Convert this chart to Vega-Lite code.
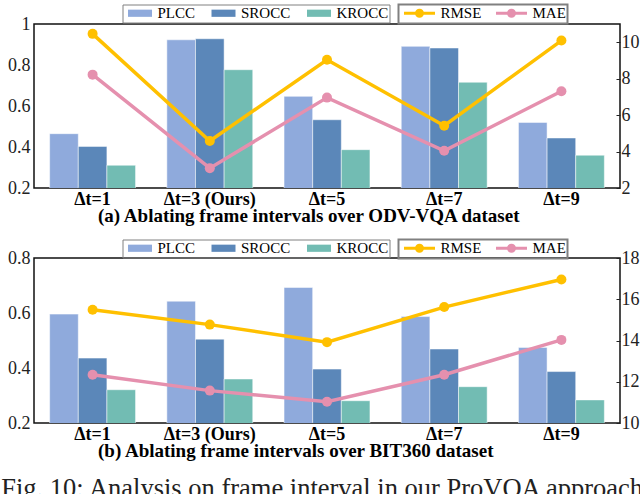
{
  "$schema": "https://vega.github.io/schema/vega-lite/v6.json",
  "padding": {"left": 0, "right": 0, "top": 2, "bottom": 0},
  "background": "white",
  "config": {
    "font": "Liberation Serif",
    "view": {"stroke": "#111", "strokeWidth": 1.5},
    "axis": {"grid": false, "domain": false, "title": null, "labelFont": "Liberation Serif", "labelColor": "#222"},
    "concat": {"spacing": 10},
    "legend": {"labelFont": "Liberation Serif", "labelFontSize": 15, "labelColor": "#000", "strokeColor": "#808080", "padding": 1, "title": null}
  },
  "datasets": {
    "a_bars": [
      {"interval": "Δt=1", "metric": "PLCC", "value": 0.465},
      {"interval": "Δt=1", "metric": "SROCC", "value": 0.403},
      {"interval": "Δt=1", "metric": "KROCC", "value": 0.311},
      {"interval": "Δt=3 (Ours)", "metric": "PLCC", "value": 0.923},
      {"interval": "Δt=3 (Ours)", "metric": "SROCC", "value": 0.928},
      {"interval": "Δt=3 (Ours)", "metric": "KROCC", "value": 0.777},
      {"interval": "Δt=5", "metric": "PLCC", "value": 0.647},
      {"interval": "Δt=5", "metric": "SROCC", "value": 0.533},
      {"interval": "Δt=5", "metric": "KROCC", "value": 0.387},
      {"interval": "Δt=7", "metric": "PLCC", "value": 0.891},
      {"interval": "Δt=7", "metric": "SROCC", "value": 0.883},
      {"interval": "Δt=7", "metric": "KROCC", "value": 0.716},
      {"interval": "Δt=9", "metric": "PLCC", "value": 0.52},
      {"interval": "Δt=9", "metric": "SROCC", "value": 0.444},
      {"interval": "Δt=9", "metric": "KROCC", "value": 0.36}
    ],
    "a_lines": [
      {"interval": "Δt=1", "metric": "RMSE", "value": 10.46},
      {"interval": "Δt=3 (Ours)", "metric": "RMSE", "value": 4.58},
      {"interval": "Δt=5", "metric": "RMSE", "value": 9.04},
      {"interval": "Δt=7", "metric": "RMSE", "value": 5.42},
      {"interval": "Δt=9", "metric": "RMSE", "value": 10.09},
      {"interval": "Δt=1", "metric": "MAE", "value": 8.22},
      {"interval": "Δt=3 (Ours)", "metric": "MAE", "value": 3.09},
      {"interval": "Δt=5", "metric": "MAE", "value": 6.96},
      {"interval": "Δt=7", "metric": "MAE", "value": 4.04},
      {"interval": "Δt=9", "metric": "MAE", "value": 7.31}
    ],
    "b_bars": [
      {"interval": "Δt=1", "metric": "PLCC", "value": 0.596},
      {"interval": "Δt=1", "metric": "SROCC", "value": 0.436},
      {"interval": "Δt=1", "metric": "KROCC", "value": 0.321},
      {"interval": "Δt=3 (Ours)", "metric": "PLCC", "value": 0.643},
      {"interval": "Δt=3 (Ours)", "metric": "SROCC", "value": 0.505},
      {"interval": "Δt=3 (Ours)", "metric": "KROCC", "value": 0.36},
      {"interval": "Δt=5", "metric": "PLCC", "value": 0.693},
      {"interval": "Δt=5", "metric": "SROCC", "value": 0.396},
      {"interval": "Δt=5", "metric": "KROCC", "value": 0.281},
      {"interval": "Δt=7", "metric": "PLCC", "value": 0.587},
      {"interval": "Δt=7", "metric": "SROCC", "value": 0.469},
      {"interval": "Δt=7", "metric": "KROCC", "value": 0.332},
      {"interval": "Δt=9", "metric": "PLCC", "value": 0.475},
      {"interval": "Δt=9", "metric": "SROCC", "value": 0.387},
      {"interval": "Δt=9", "metric": "KROCC", "value": 0.284}
    ],
    "b_lines": [
      {"interval": "Δt=1", "metric": "RMSE", "value": 15.49},
      {"interval": "Δt=3 (Ours)", "metric": "RMSE", "value": 14.77},
      {"interval": "Δt=5", "metric": "RMSE", "value": 13.92},
      {"interval": "Δt=7", "metric": "RMSE", "value": 15.62},
      {"interval": "Δt=9", "metric": "RMSE", "value": 16.96},
      {"interval": "Δt=1", "metric": "MAE", "value": 12.34},
      {"interval": "Δt=3 (Ours)", "metric": "MAE", "value": 11.57},
      {"interval": "Δt=5", "metric": "MAE", "value": 11.03},
      {"interval": "Δt=7", "metric": "MAE", "value": 12.34},
      {"interval": "Δt=9", "metric": "MAE", "value": 14.03}
    ]
  },
  "vconcat": [
    {
      "width": 586,
      "height": 164,
      "title": {"text": "(a) Ablating frame intervals over ODV-VQA dataset", "orient": "bottom", "anchor": "start", "dx": 97, "fontSize": 19, "fontWeight": "bold", "font": "Liberation Serif", "color": "#000", "offset": -1},
      "layer": [
        {
          "data": {"name": "a_bars"},
          "mark": {"type": "bar", "clip": true, "stroke": "white", "strokeWidth": 0.5},
          "encoding": {
            "x": {"field": "interval", "type": "nominal", "sort": ["Δt=1", "Δt=3 (Ours)", "Δt=5", "Δt=7", "Δt=9"], "scale": {"paddingInner": 0.267, "paddingOuter": 0.1335}, "axis": {"labelAngle": 0, "labelFontWeight": "bold", "labelFontSize": 18, "labelColor": "#000", "ticks": false, "labelPadding": 2}},
            "xOffset": {"field": "metric", "type": "nominal", "sort": ["PLCC", "SROCC", "KROCC"]},
            "y": {"field": "value", "type": "quantitative", "scale": {"domain": [0.2, 1], "nice": false, "zero": false}, "axis": {"values": [0.2, 0.4, 0.6, 0.8, 1], "format": "~g", "ticks": false, "labelPadding": 4, "labelFontSize": 18, "minExtent": 33, "maxExtent": 33}},
            "color": {"field": "metric", "type": "nominal", "scale": {"domain": ["PLCC", "SROCC", "KROCC"], "range": ["#8FAADC", "#5B87B9", "#72BCB3"]}, "legend": {"orient": "none", "legendX": 88.5, "legendY": -19.5, "direction": "horizontal", "symbolType": "M-0.5,-0.6H3.5V0.6H-0.5Z", "symbolSize": 144, "symbolStrokeWidth": 0, "symbolOpacity": 1, "labelOffset": 19, "columnPadding": 11.5, "encode": {"legend": {"update": {"strokeWidth": {"value": 2}}}}}}
          }
        },
        {
          "data": {"name": "a_lines"},
          "mark": {"type": "line", "strokeWidth": 3.5, "point": {"size": 100, "filled": true}},
          "encoding": {
            "x": {"field": "interval", "type": "nominal", "sort": ["Δt=1", "Δt=3 (Ours)", "Δt=5", "Δt=7", "Δt=9"]},
            "y": {"field": "value", "type": "quantitative", "scale": {"domain": [2, 11], "nice": false, "zero": false}, "axis": {"orient": "right", "values": [2, 4, 6, 8, 10], "tickSize": -4, "tickColor": "#222", "labelPadding": 5, "labelFontSize": 18, "minExtent": 20, "maxExtent": 20}},
            "color": {"field": "metric", "type": "nominal", "scale": {"domain": ["RMSE", "MAE"], "range": ["#FFC000", "#E590AE"]}, "legend": {"orient": "none", "legendX": 364.5, "legendY": -19.5, "direction": "horizontal", "symbolType": "M-0.5,0H4.667M2.583,0A0.5,0.5 0 1,1 1.583,0A0.5,0.5 0 1,1 2.583,0", "symbolSize": 144, "symbolStrokeWidth": 3, "labelOffset": 26, "columnPadding": 8, "encode": {"legend": {"update": {"strokeWidth": {"value": 2}}}}}}
          }
        }
      ],
      "resolve": {"scale": {"y": "independent", "color": "independent"}}
    },
    {
      "width": 586,
      "height": 165,
      "title": {"text": "(b) Ablating frame intervals over BIT360 dataset", "orient": "bottom", "anchor": "start", "dx": 97, "fontSize": 19, "fontWeight": "bold", "font": "Liberation Serif", "color": "#000", "offset": -1},
      "layer": [
        {
          "data": {"name": "b_bars"},
          "mark": {"type": "bar", "clip": true, "stroke": "white", "strokeWidth": 0.5},
          "encoding": {
            "x": {"field": "interval", "type": "nominal", "sort": ["Δt=1", "Δt=3 (Ours)", "Δt=5", "Δt=7", "Δt=9"], "scale": {"paddingInner": 0.267, "paddingOuter": 0.1335}, "axis": {"labelAngle": 0, "labelFontWeight": "bold", "labelFontSize": 18, "labelColor": "#000", "ticks": false, "labelPadding": 2}},
            "xOffset": {"field": "metric", "type": "nominal", "sort": ["PLCC", "SROCC", "KROCC"]},
            "y": {"field": "value", "type": "quantitative", "scale": {"domain": [0.2, 0.8], "nice": false, "zero": false}, "axis": {"values": [0.2, 0.4, 0.6, 0.8], "format": "~g", "ticks": false, "labelPadding": 4, "labelFontSize": 18, "minExtent": 33, "maxExtent": 33}},
            "color": {"field": "metric", "type": "nominal", "scale": {"domain": ["PLCC", "SROCC", "KROCC"], "range": ["#8FAADC", "#5B87B9", "#72BCB3"]}, "legend": {"orient": "none", "legendX": 88.5, "legendY": -18.5, "direction": "horizontal", "symbolType": "M-0.5,-0.6H3.5V0.6H-0.5Z", "symbolSize": 144, "symbolStrokeWidth": 0, "symbolOpacity": 1, "labelOffset": 19, "columnPadding": 11.5, "encode": {"legend": {"update": {"strokeWidth": {"value": 2}}}}}}
          }
        },
        {
          "data": {"name": "b_lines"},
          "mark": {"type": "line", "strokeWidth": 3.5, "point": {"size": 100, "filled": true}},
          "encoding": {
            "x": {"field": "interval", "type": "nominal", "sort": ["Δt=1", "Δt=3 (Ours)", "Δt=5", "Δt=7", "Δt=9"]},
            "y": {"field": "value", "type": "quantitative", "scale": {"domain": [10, 18], "nice": false, "zero": false}, "axis": {"orient": "right", "values": [10, 12, 14, 16, 18], "tickSize": -4, "tickColor": "#222", "labelPadding": 5, "labelFontSize": 18, "minExtent": 20, "maxExtent": 20}},
            "color": {"field": "metric", "type": "nominal", "scale": {"domain": ["RMSE", "MAE"], "range": ["#FFC000", "#E590AE"]}, "legend": {"orient": "none", "legendX": 364.5, "legendY": -18.5, "direction": "horizontal", "symbolType": "M-0.5,0H4.667M2.583,0A0.5,0.5 0 1,1 1.583,0A0.5,0.5 0 1,1 2.583,0", "symbolSize": 144, "symbolStrokeWidth": 3, "labelOffset": 26, "columnPadding": 8, "encode": {"legend": {"update": {"strokeWidth": {"value": 2}}}}}}
          }
        }
      ],
      "resolve": {"scale": {"y": "independent", "color": "independent"}}
    }
  ],
  "title": {"text": "Fig. 10: Analysis on frame interval in our ProVQA approach", "orient": "bottom", "anchor": "start", "dx": 1, "fontSize": 26.5, "fontWeight": "normal", "font": "Liberation Serif", "color": "#222", "offset": 14}
}
